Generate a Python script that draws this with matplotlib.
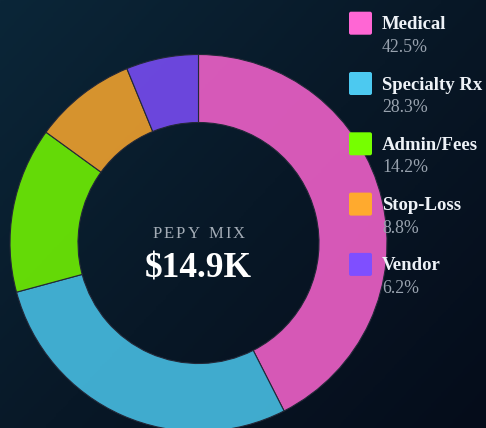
import numpy as np
import matplotlib
matplotlib.use("Agg")
import matplotlib.pyplot as plt
from matplotlib.patches import FancyBboxPatch
from matplotlib.colors import LinearSegmentedColormap

# ---- data ----
categories = ["Medical", "Specialty Rx", "Admin/Fees", "Stop-Loss", "Vendor"]
shares = [42.5, 28.3, 14.2, 8.8, 6.2]
pct_labels = ["42.5%", "28.3%", "14.2%", "8.8%", "6.2%"]
colors = ["#FF66D4", "#4CC9F0", "#76FF00", "#FFAA2E", "#7F4FFF"]
center_title = "PEPY MIX"
center_value = "$14.9K"

W, H = 486, 428
fig = plt.figure(figsize=(W / 100, H / 100), dpi=100)

# background gradient
bg = fig.add_axes([0, 0, 1, 1], zorder=0)
bg.set_axis_off()
yy, xx = np.mgrid[0:1:200j, 0:1:200j]
t = (xx * 0.55 + yy * 0.45)
cmap = LinearSegmentedColormap.from_list("bg", ["#0b2638", "#081827", "#050c1a"])
bg.imshow(t, cmap=cmap, extent=[0, 1, 0, 1], aspect="auto", origin="upper")
bg.set_xlim(0, 1)
bg.set_ylim(0, 1)

ax = fig.add_axes([0, 0, 1, 1], zorder=1)
ax.patch.set_alpha(0)
cx, cy, R = 198.5, H - 243, 188.5
ring = 68
wedges, _ = ax.pie(shares, colors=colors, startangle=90, counterclock=False,
                   center=(cx, cy), radius=R, frame=True,
                   wedgeprops=dict(width=ring, edgecolor="#232838", linewidth=0.8))
for w in wedges:
    fc = w.get_facecolor()
    w.set_facecolor((fc[0], fc[1], fc[2], 0.84))
ax.set_xlim(0, W)
ax.set_ylim(0, H)
ax.set_aspect("equal")
ax.set_axis_off()

serif = ["Liberation Serif", "DejaVu Serif"]

# center text with letter spacing
fig.canvas.draw()
renderer = fig.canvas.get_renderer()
fs_title = 12
spacing = 2.2
chars = list(center_title)
widths = []
for ch in chars:
    tt = ax.text(0, 0, ch if ch != " " else "I", fontsize=fs_title, family=serif)
    bb = tt.get_window_extent(renderer)
    widths.append(bb.width if ch != " " else bb.width * 0.75)
    tt.remove()
total = sum(widths) + spacing * (len(chars) - 1)
x0 = cx - total / 2
for ch, wd in zip(chars, widths):
    if ch != " ":
        ax.text(x0, H - 237.5, ch, fontsize=fs_title, family=serif, color="#a3acb6",
                ha="left", va="baseline")
    x0 += wd + spacing

ax.text(cx, H - 277, center_value, fontsize=25.5, family=serif, fontweight="bold",
        color="#ffffff", ha="center", va="baseline")

# legend
pitch = 60.3
for i, (cat, pct, col) in enumerate(zip(categories, pct_labels, colors)):
    top = 11.7 + pitch * i
    sw = FancyBboxPatch((349 + 2, H - top - 23 + 2), 23 - 4, 23 - 4,
                        boxstyle="round,pad=2", facecolor=col, edgecolor="none",
                        zorder=5)
    ax.add_patch(sw)
    ax.text(382, H - (29.3 + pitch * i), cat, fontsize=13.5, family=serif,
            fontweight="bold", color="#eef2f7", ha="left", va="baseline", zorder=6)
    ax.text(382, H - (51.7 + pitch * i), pct, fontsize=12.8, family=serif,
            color="#98a2ae", ha="left", va="baseline", zorder=6)

fig.savefig("out.png", dpi=100, facecolor="#081827")
